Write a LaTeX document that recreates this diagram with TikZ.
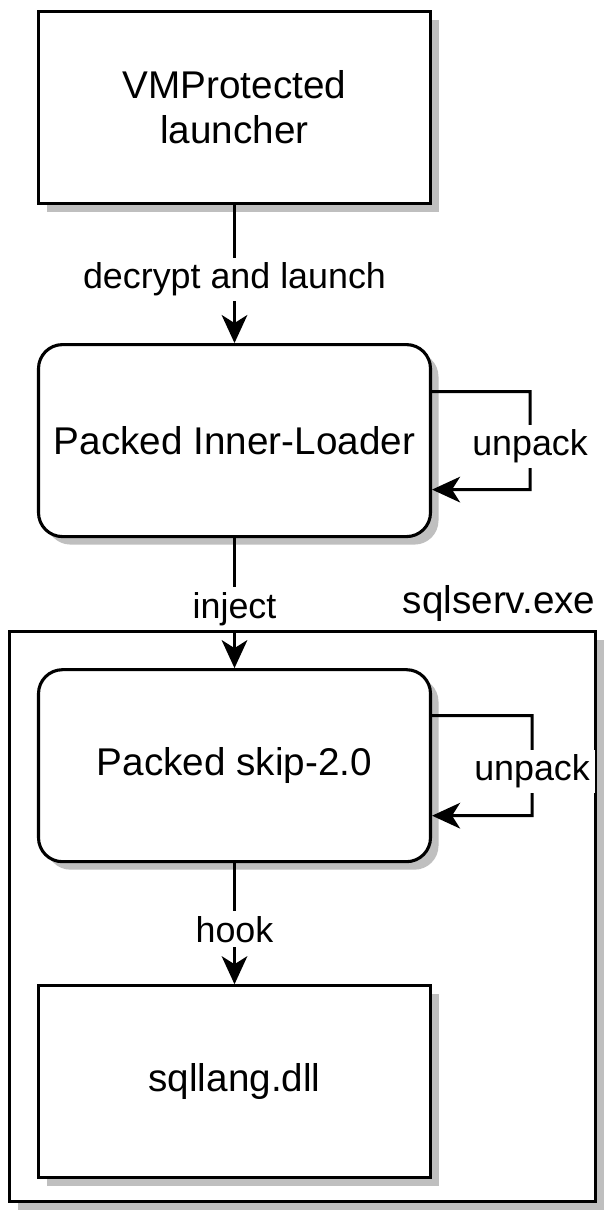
\documentclass[tikz,border=0pt]{standalone}
\usepackage{fontspec}
\setmainfont{Liberation Sans}
\usepackage{tikz}
\usetikzlibrary{positioning,arrows.meta,shadows}
\newcommand{\boxfont}{\fontsize{27.5}{32}\selectfont}
\newcommand{\lblfont}{\fontsize{25.5}{30}\selectfont}
\begin{document}
\begin{tikzpicture}[->,>={Stealth[length=0.7cm,width=0.64cm,inset=0.2cm]},line width=2.2pt,
			box node/.style={rectangle,draw,fill=white,minimum width=9.8cm,minimum height=4.8cm,font=\boxfont,
				drop shadow={shadow xshift=0.2cm,shadow yshift=-0.2cm,fill=black!25,opacity=1}},
			round node/.style={box node,rounded corners=0.6cm},
			edge label/.style={font=\lblfont,fill=white,yshift=-0.14cm}]

		\useasboundingbox (0,0) rectangle (15.125,-30.25);

		\node[box node,align=center] (1) at (5.8625,-2.6875) {VMProtected\\launcher};
		\node[round node] (2) [below=3.45cm of 1] {Packed Inner-Loader};
		\node[box node,minimum width=14.65cm,minimum height=14.25cm] (5) at (7.5625,-22.9125) {};
		\node[anchor=east,inner sep=0pt,font=\boxfont] (6) at ([yshift=0.65cm]5.north east) {sqlserv.exe};
		\node[round node] (3) [below=3.25cm of 2] {Packed skip-2.0};
		\node[box node] (4) [below=3.025cm of 3] {sqllang.dll};

		\path[every node/.style={edge label}]
		(1) edge node {decrypt and launch} (2)
		(2) edge node {inject} (3)
		(3) edge node {hook} (4);

		\draw[every node/.style={edge label}]
		([yshift=1.225cm]2.east) -- ++(2.45,0) -- node {unpack} ++(0,-2.45) -- ([yshift=-1.225cm]2.east);
		\draw[every node/.style={edge label}]
		([yshift=1.25cm]3.east) -- ++(2.5,0) -- node {unpack} ++(0,-2.5) -- ([yshift=-1.25cm]3.east);
	\end{tikzpicture}
\end{document}
